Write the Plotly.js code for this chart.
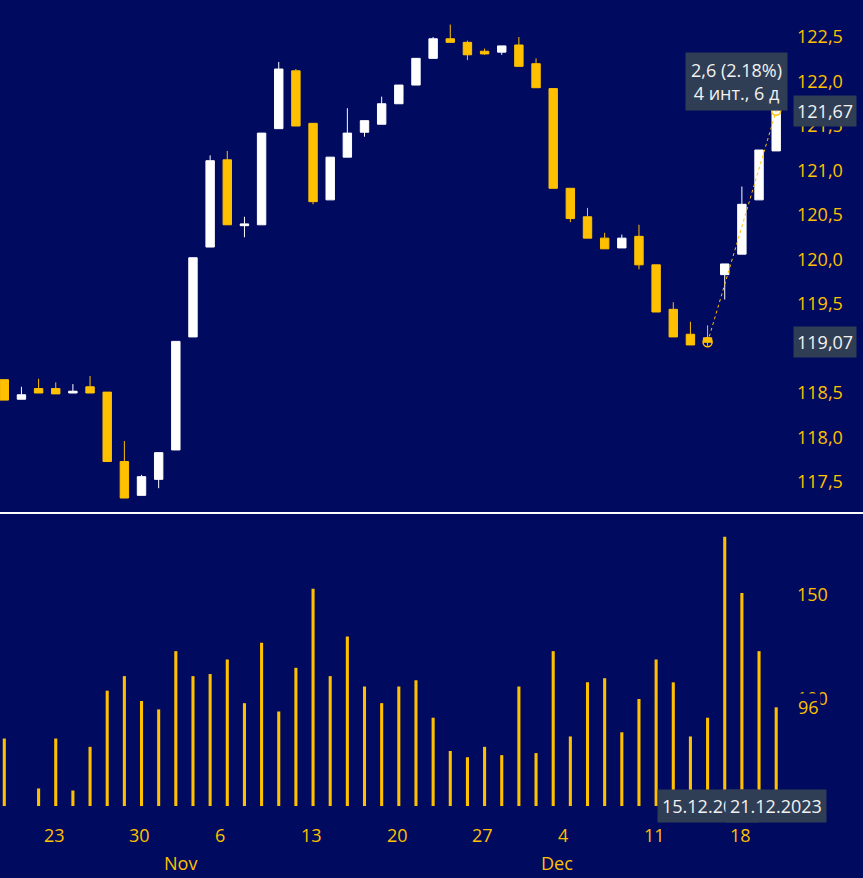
<!DOCTYPE html>
<html>
<head>
<meta charset="utf-8">
<script src="https://cdn.plot.ly/plotly-3.0.1.min.js"></script>
<style>html,body{margin:0;padding:0;background:#000A5E;}#chart{width:863px;height:878px;}</style>
</head>
<body>
<div id="chart"></div>
<script>
// ---- data ----
const dates = ['2023-10-19','2023-10-20','2023-10-23','2023-10-24','2023-10-25','2023-10-26','2023-10-27',
  '2023-10-30','2023-10-31','2023-11-01','2023-11-02','2023-11-03','2023-11-06','2023-11-07','2023-11-08',
  '2023-11-09','2023-11-10','2023-11-13','2023-11-14','2023-11-15','2023-11-16','2023-11-17','2023-11-20',
  '2023-11-21','2023-11-22','2023-11-23','2023-11-24','2023-11-27','2023-11-28','2023-11-29','2023-11-30',
  '2023-12-01','2023-12-04','2023-12-05','2023-12-06','2023-12-07','2023-12-08','2023-12-11','2023-12-12',
  '2023-12-13','2023-12-14','2023-12-15','2023-12-18','2023-12-19','2023-12-20','2023-12-21'];
const openP  = [118.65,118.43,118.55,118.55,118.50,118.57,118.51,117.73,117.35,117.53,117.86,119.13,120.14,121.12,120.38,
  120.39,121.47,122.12,121.53,120.67,121.15,121.43,121.52,121.75,121.96,122.26,122.48,122.44,122.34,122.33,122.41,
  122.20,121.92,120.80,120.48,120.24,120.13,120.26,119.94,119.44,119.16,119.12,119.83,120.06,120.67,121.22];
const highP  = [118.65,118.57,118.66,118.62,118.60,118.69,118.51,117.96,117.58,117.83,119.08,120.02,121.17,121.22,120.48,
  121.42,122.22,122.14,121.53,121.15,121.70,121.56,121.83,121.96,122.26,122.50,122.64,122.46,122.37,122.40,122.50,
  122.26,121.92,120.80,120.58,120.30,120.28,120.39,119.94,119.52,119.30,119.26,119.95,120.82,121.23,121.70];
const lowP   = [118.42,118.43,118.50,118.49,118.50,118.50,117.73,117.32,117.35,117.43,117.86,119.13,120.14,120.39,120.25,
  120.39,121.47,121.50,120.62,120.67,121.15,121.38,121.52,121.75,121.96,122.26,122.44,122.24,122.30,122.30,122.17,
  121.93,120.80,120.42,120.24,120.12,120.13,119.89,119.41,119.13,119.04,119.03,119.55,120.06,120.67,121.22];
const closeP = [118.42,118.48,118.50,118.49,118.52,118.50,117.73,117.32,117.56,117.83,119.08,120.02,121.11,120.39,120.40,
  121.42,122.14,121.50,120.65,121.15,121.42,121.56,121.75,121.96,122.26,122.48,122.44,122.30,122.31,122.40,122.17,
  121.93,120.80,120.46,120.24,120.12,120.24,119.94,119.41,119.13,119.04,119.07,119.95,120.62,121.23,121.67];
const volume = [81,45,57,81,56,77,104,111,99,95,123,111,112,119,98,127,94,115,153,111,130,106,98,106,109,91,
  75,72,77,73,106,74,123,82,108,110,84,100,119,108,82,91,178,151,123,96];
const priceTicks = [117.5,118.0,118.5,119.0,119.5,120.0,120.5,121.0,121.5,122.0,122.5];
const volumeTicks = [100,150];
const monthNames = ['Jan','Feb','Mar','Apr','May','Jun','Jul','Aug','Sep','Oct','Nov','Dec'];
const measureDates = ['2023-12-15','2023-12-21'];
const measureValues = [119.07, 121.67];

// ---- helpers ----
const BG = '#000A5E', GOLD = '#FFC000', BOX = '#2F3E54', LIGHT = '#F2F2F2';
const FONT = 'Open Sans, Noto Sans, sans-serif';
const idx = dates.map((d, i) => i);
const parse = s => { const [y, m, d] = s.split('-').map(Number); return new Date(Date.UTC(y, m - 1, d)); };
const PLOT_BOTTOM = 806; // px of the plot-area bottom
const py = pix => (PLOT_BOTTOM - pix) / PLOT_BOTTOM;
const fmtComma = (v, n) => v.toFixed(n).replace('.', ',');
const fmtDate = s => { const d = parse(s); return String(d.getUTCDate()).padStart(2,'0') + '.' + String(d.getUTCMonth()+1).padStart(2,'0') + '.' + d.getUTCFullYear(); };

const annotations = [];
dates.forEach((s, i) => {
  const d = parse(s);
  if (d.getUTCDay() === 1) {
    annotations.push({x: i, xref: 'x', y: py(835), yref: 'paper', text: String(d.getUTCDate()), showarrow: false,
      xanchor: 'left', yanchor: 'middle', xshift: 3, font: {family: FONT, size: 18, color: GOLD}});
  }
  if (i > 0 && parse(dates[i - 1]).getUTCMonth() !== d.getUTCMonth()) {
    annotations.push({x: i, xref: 'x', y: py(863), yref: 'paper', text: monthNames[d.getUTCMonth()], showarrow: false,
      xanchor: 'left', yanchor: 'middle', xshift: 3, font: {family: FONT, size: 18, color: GOLD}});
  }
});

const mIdx = measureDates.map(s => dates.indexOf(s));
const diff = measureValues[1] - measureValues[0];
const pct = diff / measureValues[0] * 100;
const nInt = mIdx[1] - mIdx[0];
const nDays = Math.round((parse(measureDates[1]) - parse(measureDates[0])) / 86400000);
const lastVol = volume[volume.length - 1];

const rightX = 793 / 787;
// value label boxes on the price axis
annotations.push({x: rightX, xref: 'paper', y: measureValues[0], yref: 'y', text: fmtComma(measureValues[0], 2),
  showarrow: false, xanchor: 'left', yanchor: 'middle', bgcolor: BOX, borderpad: 3,
  font: {family: FONT, size: 18, color: LIGHT}});
annotations.push({x: rightX, xref: 'paper', y: closeP[closeP.length - 1], yref: 'y', text: fmtComma(closeP[closeP.length - 1], 2),
  showarrow: false, xanchor: 'left', yanchor: 'middle', bgcolor: BOX, borderpad: 3,
  font: {family: FONT, size: 18, color: LIGHT}});
// measurement tooltip
annotations.push({x: mIdx[1], xref: 'x', y: measureValues[1], yref: 'y',
  text: parseFloat(diff.toFixed(2)).toString().replace('.', ',') + ' (' + pct.toFixed(2) + '%)<br>' + nInt + ' инт., ' + nDays + ' д',
  showarrow: false, xanchor: 'center', yanchor: 'bottom', xshift: -40, yshift: 0, bgcolor: BOX, borderpad: 5,
  font: {family: FONT, size: 18, color: LIGHT}});
// volume current value
annotations.push({x: 796 / 787, xref: 'paper', y: lastVol, yref: 'y2', text: String(lastVol), showarrow: false,
  xanchor: 'left', yanchor: 'middle', bgcolor: BG, borderpad: 1, font: {family: FONT, size: 18, color: GOLD}});
// date labels at bottom
measureDates.forEach((s, k) => {
  annotations.push({x: mIdx[k], xref: 'x', y: py(805.5), yref: 'paper', text: fmtDate(s), showarrow: false,
    xanchor: 'center', yanchor: 'middle', bgcolor: BOX, borderpad: 4, font: {family: FONT, size: 18, color: LIGHT}});
});

const traces = [
  {type: 'candlestick', x: idx, open: openP, high: highP, low: lowP, close: closeP, xaxis: 'x', yaxis: 'y',
   increasing: {line: {color: '#FFFFFF', width: 1}, fillcolor: '#FFFFFF'},
   decreasing: {line: {color: GOLD, width: 1}, fillcolor: GOLD},
   whiskerwidth: 0, hoverinfo: 'skip', showlegend: false},
  {type: 'bar', x: idx, y: volume, xaxis: 'x', yaxis: 'y2', width: 0.18, marker: {color: GOLD, line: {width: 0}},
   hoverinfo: 'skip', showlegend: false},
  {type: 'scatter', mode: 'lines', x: mIdx, y: measureValues, xaxis: 'x', yaxis: 'y',
   line: {color: GOLD, width: 1, dash: 'dot'}, hoverinfo: 'skip', showlegend: false},
  {type: 'scatter', mode: 'markers', x: mIdx, y: measureValues, xaxis: 'x', yaxis: 'y',
   marker: {symbol: 'circle-open', size: 9, color: GOLD, line: {width: 1.5, color: GOLD}}, hoverinfo: 'skip', showlegend: false}
];

const layout = {
  width: 863, height: 878,
  paper_bgcolor: BG, plot_bgcolor: BG,
  margin: {l: 0, r: 76, t: 0, b: 72},
  separators: ', ',
  showlegend: false,
  hovermode: false,
  boxgap: 0.3,
  font: {family: FONT, size: 18, color: GOLD},
  xaxis: {range: [-0.25, 45.63], showticklabels: false, showgrid: false, zeroline: false, ticks: '',
          rangeslider: {visible: false}, anchor: 'y2', showline: false, fixedrange: true},
  yaxis: {domain: [py(510), 1], range: [122.5 - 473 / 89, 122.5 + 37 / 89], side: 'right', tickvals: priceTicks,
          tickformat: '.1f', showgrid: false, zeroline: false, ticks: '', ticklabelstandoff: 9,
          tickfont: {family: FONT, size: 18, color: GOLD}, fixedrange: true},
  yaxis2: {domain: [0, py(520)], range: [100 - 107 / 2.08, 100 + 179 / 2.08], side: 'right', tickvals: volumeTicks,
           showgrid: false, zeroline: false, ticks: '', ticklabelstandoff: 9,
           tickfont: {family: FONT, size: 18, color: GOLD}, fixedrange: true},
  shapes: [{type: 'line', xref: 'paper', yref: 'paper', x0: -0.01, x1: 863 / 787 + 0.01, y0: py(513), y1: py(513),
            line: {color: '#FFFFFF', width: 2}}],
  annotations: annotations
};

Plotly.newPlot('chart', traces, layout, {displayModeBar: false, staticPlot: true});
</script>
</body>
</html>
